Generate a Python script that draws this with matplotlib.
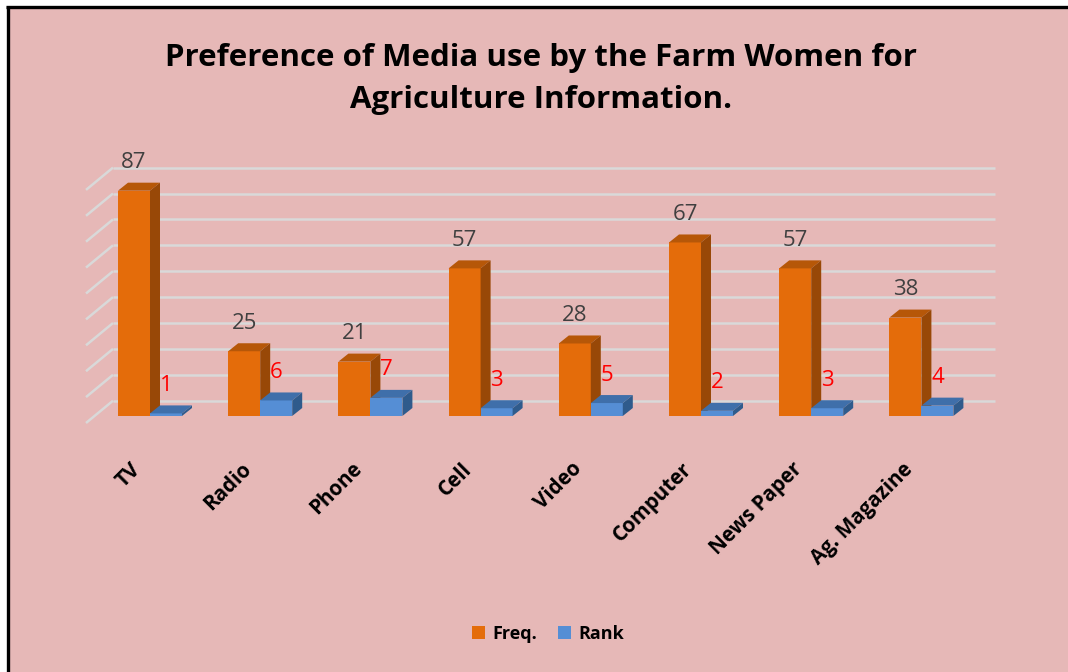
import matplotlib
matplotlib.use('Agg')
import matplotlib.pyplot as plt
from matplotlib.patches import Polygon, Rectangle, Patch
from matplotlib.lines import Line2D

# ---------------- data ----------------
categories = ['TV', 'Radio', 'Phone', 'Cell', 'Video', 'Computer', 'News Paper', 'Ag. Magazine']
freq = [87, 25, 21, 57, 28, 67, 57, 38]
rank = [1, 6, 7, 3, 5, 2, 3, 4]
grid_values = [0, 10, 20, 30, 40, 50, 60, 70, 80, 90]
series_names = ['Freq.', 'Rank']
title_text = 'Preference of Media use by the Farm Women for\nAgriculture Information.'

# ---------------- style ----------------
W, H = 1068, 672
PX_X = 110.2      # pixels per category unit
PX_Y = 2.59       # pixels per value unit
FONT = ['Open Sans', 'DejaVu Sans']

BG = '#E6B8B7'
OR_FRONT, OR_TOP, OR_SIDE = '#E46C0A', '#B65708', '#984807'
BL_FRONT, BL_TOP, BL_SIDE = '#558ED5', '#3F6FAA', '#2F5B8C'
GRID = '#D9D9D9'

fig = plt.figure(figsize=(W / 100, H / 100), dpi=100)
fig.patch.set_facecolor('white')
fig.patches.append(Rectangle((9 / W, 0), 1 - 9 / W, (H - 9) / H,
                             transform=fig.transFigure, facecolor=BG,
                             edgecolor='none', zorder=-5))
fig.add_artist(Line2D([7.5 / W, 7.5 / W], [0, 1 - 5.5 / H], transform=fig.transFigure,
                      color='black', lw=2.4, solid_capstyle='butt', zorder=5))
fig.add_artist(Line2D([6 / W, 1], [1 - 7 / H, 1 - 7 / H], transform=fig.transFigure,
                      color='black', lw=2.4, solid_capstyle='butt', zorder=5))

# axes placed so that category 0 centre sits at x=150px and value 0 at y=416px
ax_l, ax_r, ax_t, ax_b = 60, 1010, 140, 440
ax = fig.add_axes([ax_l / W, (H - ax_b) / H, (ax_r - ax_l) / W, (ax_b - ax_t) / H])
ax.set_xlim((ax_l - 150) / PX_X, (ax_r - 150) / PX_X)
ax.set_ylim((416 - ax_b) / PX_Y, (416 - ax_t) / PX_Y)
ax.axis('off')
ax.patch.set_alpha(0)
ax.set_zorder(1)

# depth offsets (pixels -> data units)
bdx, bdy = 10 / PX_X, 8 / PX_Y           # bar depth
wall_back_x = (113 - 150) / PX_X
wall_front_x = (86 - 150) / PX_X
wall_back_dy = (416 - 400.7) / PX_Y
wall_front_dy = (416 - 423) / PX_Y
grid_right_x = (995 - 150) / PX_X

for v in grid_values:
    ax.plot([wall_front_x, wall_back_x], [v + wall_front_dy, v + wall_back_dy],
            color=GRID, lw=1.8, zorder=1, clip_on=False, solid_capstyle='butt')
    ax.plot([wall_back_x, grid_right_x], [v + wall_back_dy, v + wall_back_dy],
            color=GRID, lw=1.8, zorder=1, clip_on=False, solid_capstyle='butt')

bw = 32 / PX_X
x = list(range(len(categories)))


def draw_3d(xs, vals, front, top, side, z):
    bars = ax.bar(xs, vals, width=bw, align='edge', color=front, zorder=z,
                  edgecolor='none', clip_on=False)
    for rect in bars:
        x0 = rect.get_x()
        w = rect.get_width()
        h = rect.get_height()
        ax.add_patch(Polygon([(x0, h), (x0 + w, h), (x0 + w + bdx, h + bdy), (x0 + bdx, h + bdy)],
                             closed=True, facecolor=top, edgecolor='none', zorder=z, clip_on=False))
        ax.add_patch(Polygon([(x0 + w, 0), (x0 + w + bdx, bdy), (x0 + w + bdx, h + bdy), (x0 + w, h)],
                             closed=True, facecolor=side, edgecolor='none', zorder=z, clip_on=False))
    return bars


fb = draw_3d([xi - bw for xi in x], freq, OR_FRONT, OR_TOP, OR_SIDE, 3)
rb = draw_3d(x, rank, BL_FRONT, BL_TOP, BL_SIDE, 4)

lab_off = 20 / PX_Y
for rect, v in zip(fb, freq):
    ax.text(rect.get_x() + rect.get_width() / 2, v + bdy + lab_off, str(v),
            ha='center', va='center', fontsize=16, color='#404040', family=FONT, zorder=6)
for rect, v in zip(rb, rank):
    ax.text(rect.get_x() + rect.get_width() / 2, v + bdy + lab_off, str(v),
            ha='center', va='center', fontsize=16, color='#FF0000', family=FONT, zorder=6)

# category labels
lab_y = (416 - 466) / PX_Y
for xi, c in zip(x, categories):
    ax.text(xi - 12 / PX_X, lab_y, c, rotation=45, rotation_mode='anchor',
            ha='right', va='center', fontsize=14.8, fontweight='bold',
            color='black', family=FONT)

fig.text(541 / W, 1 - 79 / H, title_text, ha='center', va='center', fontsize=22.5,
         fontweight='bold', family=FONT, color='black', linespacing=1.55)

handles = [Patch(facecolor=OR_FRONT, edgecolor='none'), Patch(facecolor=BL_FRONT, edgecolor='none')]
fig.legend(handles, series_names, loc='center', bbox_to_anchor=(548 / W, 1 - 634 / H),
           ncol=2, frameon=False, handlelength=0.7, handleheight=0.7, handletextpad=0.4,
           columnspacing=1.2, prop={'family': FONT, 'weight': 'bold', 'size': 13})

fig.savefig('out.png', dpi=100, facecolor=fig.get_facecolor())
